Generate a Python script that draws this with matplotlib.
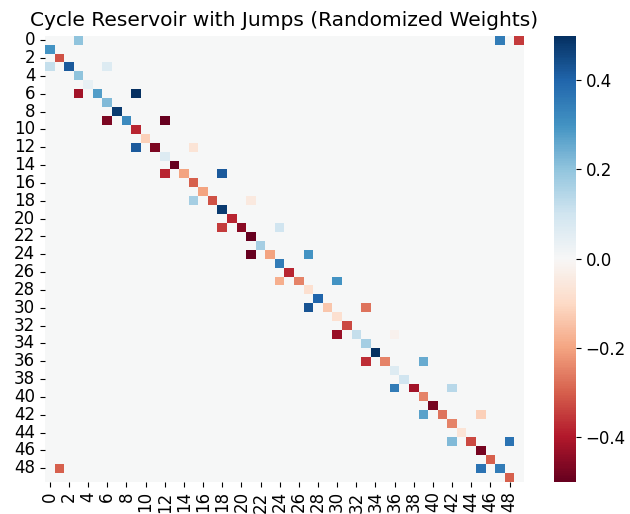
import numpy as np
import matplotlib
matplotlib.use("Agg")
import matplotlib.pyplot as plt
import seaborn as sns

# %% reservoir size and weights
n = 50

# cycle weights: W[i, i-1] for i = 1..49, plus W[0, 49]
cycle_rows = list(range(1, 50)) + [0]
cycle_cols = list(range(0, 49)) + [49]
cycle_vals = [0.30, -0.32, 0.42, 0.20, 0.04, 0.28, 0.22, 0.48, 0.32,
              -0.38, -0.12, -0.47, 0.07, -0.50, -0.20, -0.30, -0.20, -0.32, 0.48,
              -0.38, -0.45, -0.50, 0.17, -0.20, 0.35, -0.38, -0.25, -0.08, 0.40,
              -0.14, -0.08, -0.33, 0.12, 0.17, 0.50, -0.25, 0.07, 0.10, -0.42,
              -0.25, -0.48, -0.27, -0.25, -0.07, -0.33, -0.48, -0.30, 0.35, -0.30,
              -0.35]

# jump weights (step 3, wrapping)
jump_rows = [0, 3, 3, 6, 6, 9, 9, 12, 12, 15, 15, 18, 18, 21, 21, 24, 24,
             27, 27, 30, 30, 33, 33, 36, 36, 39, 39, 42, 42, 45, 45, 48, 48, 0]
jump_cols = [3, 0, 6, 3, 9, 6, 12, 9, 15, 12, 18, 15, 21, 18, 24, 21, 27,
             24, 30, 27, 33, 30, 36, 33, 39, 36, 42, 39, 45, 42, 48, 45, 1, 47]
jump_vals = [0.20, 0.12, 0.07, -0.42, 0.50, -0.47, -0.50, 0.42, -0.07, -0.38,
             0.42, 0.17, -0.05, -0.35, 0.10, -0.50, 0.30, -0.18, 0.30, 0.43,
             -0.27, -0.43, -0.02, -0.37, 0.25, 0.35, 0.14, 0.27, -0.12, 0.22,
             0.37, 0.37, -0.30, 0.35]

W = np.zeros((n, n))
W[cycle_rows, cycle_cols] = cycle_vals
W[jump_rows, jump_cols] = jump_vals

# %% plot
fig = plt.figure(figsize=(6.3, 5.14), dpi=100)
ax = fig.add_axes([0.0714, 0.063, 0.7603, 0.8675])
cax = fig.add_axes([0.879, 0.063, 0.035, 0.8675])
sns.heatmap(W, cmap="RdBu", vmin=-0.5, vmax=0.5, center=0, ax=ax, cbar_ax=cax,
            xticklabels=2, yticklabels=2)
ax.set_title("Cycle Reservoir with Jumps (Randomized Weights)", fontsize=14.5, pad=7)
ax.tick_params(axis="both", labelsize=12)
cax.tick_params(labelsize=12)
plt.setp(ax.get_yticklabels(), rotation=0)
plt.setp(ax.get_xticklabels(), rotation=90)
fig.savefig("out.png", dpi=100)
